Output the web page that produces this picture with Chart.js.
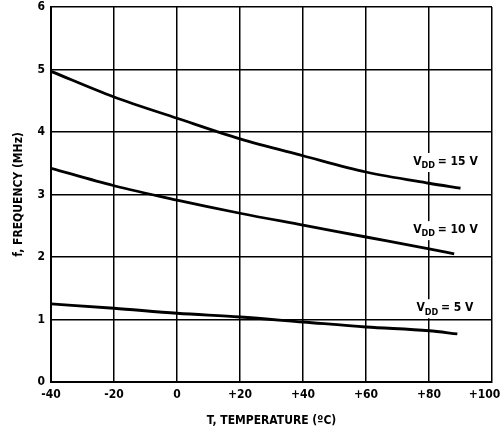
<!DOCTYPE html>
<html lang="en">
<head>
<meta charset="UTF-8">
<title>Frequency vs Temperature</title>
<script src="https://cdn.jsdelivr.net/npm/chart.js"></script>
<style>
    html, body { margin: 0; padding: 0; background: #fff; }
    #wrap { width: 503px; height: 431px; }
</style>
</head>
<body>
<div id="wrap"><canvas id="grafico"></canvas></div>
<script>
    // temperatures (deg C)
    var temps15 = [-40, -20, 0, 20, 40, 60, 80, 90];
    var freq15 = [4.97, 4.56, 4.22, 3.89, 3.62, 3.36, 3.18, 3.10];

    var temps10 = [-40, -20, 0, 20, 40, 60, 80, 88];
    var freq10 = [3.42, 3.14, 2.91, 2.70, 2.51, 2.32, 2.13, 2.05];

    var temps5 = [-40, -20, 0, 20, 40, 60, 80, 89];
    var freq5 = [1.25, 1.18, 1.10, 1.04, 0.96, 0.88, 0.82, 0.77];

    var curveNames = ['15', '10', '5'];
    // where each V_DD label sits (T, f)
    var labelAt = [[75, 3.52], [75, 2.43], [76, 1.18]];

    var fonte = '"DejaVu Sans Condensed", "DejaVu Sans", sans-serif';

    function pontos(t, f) {
        var out = [];
        for (var i = 0; i < t.length; i++) out.push({ x: t[i], y: f[i] });
        return out;
    }

    var rotulos = {
        id: 'rotulos',
        afterDatasetsDraw: function (chart) {
            var ctx = chart.ctx;
            var sx = chart.scales.x, sy = chart.scales.y;
            ctx.save();
            for (var i = 0; i < curveNames.length; i++) {
                var x = sx.getPixelForValue(labelAt[i][0]);
                var y = sy.getPixelForValue(labelAt[i][1]);
                var resto = ' = ' + curveNames[i] + ' V';
                ctx.font = 'bold 12px ' + fonte;
                var wV = ctx.measureText('V').width;
                var wR = ctx.measureText(resto).width;
                ctx.font = 'bold 9px ' + fonte;
                var wD = ctx.measureText('DD').width;
                ctx.fillStyle = '#fff';
                ctx.fillRect(x - 2, y - 9, wV + wD + wR + 4, 19);
                ctx.fillStyle = '#000';
                ctx.textBaseline = 'middle';
                ctx.textAlign = 'left';
                ctx.font = 'bold 12px ' + fonte;
                ctx.fillText('V', x, y);
                ctx.font = 'bold 9px ' + fonte;
                ctx.fillText('DD', x + wV, y + 4);
                ctx.font = 'bold 12px ' + fonte;
                ctx.fillText(resto, x + wV + wD - 1, y);
            }
            ctx.restore();
        }
    };

    var estilo = { borderColor: '#000', borderWidth: 2.8, pointRadius: 0, fill: false, cubicInterpolationMode: 'monotone' };

    new Chart(document.getElementById('grafico'), {
        type: 'line',
        data: {
            datasets: [
                Object.assign({ label: 'VDD = 15 V', data: pontos(temps15, freq15) }, estilo),
                Object.assign({ label: 'VDD = 10 V', data: pontos(temps10, freq10) }, estilo),
                Object.assign({ label: 'VDD = 5 V', data: pontos(temps5, freq5) }, estilo)
            ]
        },
        options: {
            responsive: true,
            maintainAspectRatio: false,
            animation: false,
            layout: { padding: 0 },
            plugins: {
                legend: { display: false },
                tooltip: { enabled: false }
            },
            scales: {
                x: {
                    type: 'linear',
                    min: -40,
                    max: 100,
                    ticks: {
                        stepSize: 20,
                        color: '#000',
                        padding: 6,
                        maxRotation: 0,
                        font: { family: fonte, size: 12, weight: 'bold' },
                        // last label is nudged left so it stays on the page, like the original
                        callback: function (v) {
                            if (v >= 100) return '+' + v + '\u2007\u2007';
                            return v > 0 ? '+' + v : '' + v;
                        }
                    },
                    grid: { color: '#000', lineWidth: 1.5, drawTicks: false },
                    border: { color: '#000', width: 2 },
                    title: {
                        display: true,
                        text: 'T, TEMPERATURE (ºC)',
                        color: '#000',
                        font: { family: fonte, size: 12, weight: 'bold' },
                        padding: { top: 10, bottom: 3 }
                    },
                    afterFit: function (s) { s.height = 49; s.paddingRight = 11; s.paddingLeft = 0; }
                },
                y: {
                    min: 0,
                    max: 6,
                    ticks: {
                        stepSize: 1,
                        color: '#000',
                        padding: 6,
                        font: { family: fonte, size: 12, weight: 'bold' }
                    },
                    grid: { color: '#000', lineWidth: 1.5, drawTicks: false },
                    border: { color: '#000', width: 2 },
                    title: {
                        display: true,
                        text: 'f, FREQUENCY (MHz)',
                        color: '#000',
                        font: { family: fonte, size: 12, weight: 'bold' },
                        padding: { top: 12, bottom: 4 }
                    },
                    afterFit: function (s) { s.width = 51; s.paddingTop = 7; s.paddingBottom = 0; }
                }
            }
        },
        plugins: [rotulos]
    });
</script>
</body>
</html>
